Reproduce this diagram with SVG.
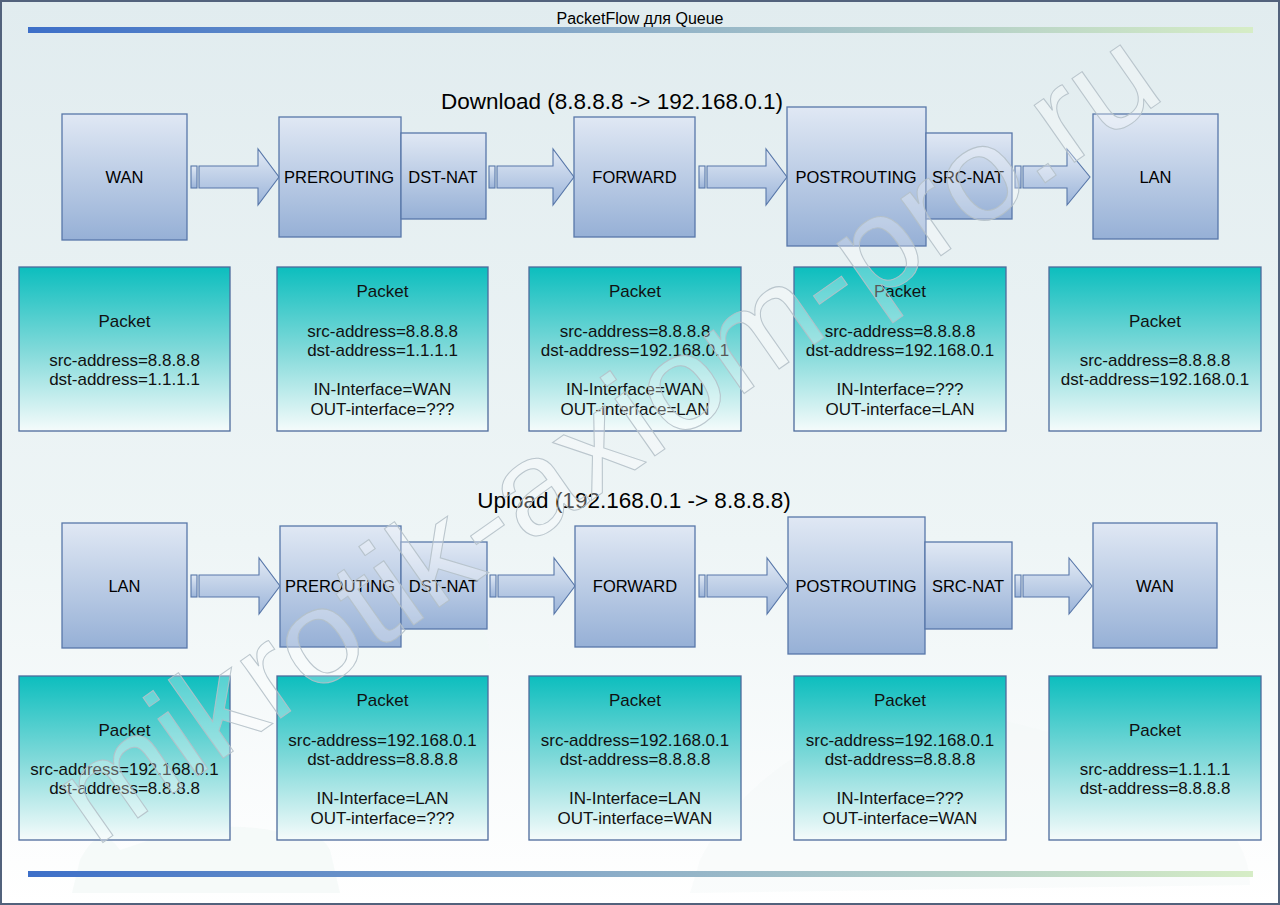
<svg xmlns="http://www.w3.org/2000/svg" width="1280" height="905" viewBox="0 0 1280 905">
<defs>
<linearGradient id="bg" x1="0" y1="0" x2="0" y2="1">
<stop offset="0" stop-color="#e1ecef"/>
<stop offset="0.6" stop-color="#eef5f6"/>
<stop offset="1" stop-color="#ffffff"/>
</linearGradient>
<linearGradient id="bar" x1="0" y1="0" x2="1" y2="0">
<stop offset="0" stop-color="#3d6fc8"/>
<stop offset="0.5" stop-color="#8fb0c8"/>
<stop offset="1" stop-color="#d6edc6"/>
</linearGradient>
<linearGradient id="nodeFill" x1="0" y1="0" x2="0" y2="1">
<stop offset="0" stop-color="#e0e8f4"/>
<stop offset="1" stop-color="#96b0d6"/>
</linearGradient>
<linearGradient id="pktFill" x1="0" y1="0" x2="0" y2="1">
<stop offset="0" stop-color="#0cbebe"/>
<stop offset="0.5" stop-color="#7fd9d9"/>
<stop offset="1" stop-color="#f5fbfb"/>
</linearGradient>
<linearGradient id="arrFill" x1="0" y1="0" x2="0" y2="1">
<stop offset="0" stop-color="#e2eaf5"/>
<stop offset="1" stop-color="#9bb4d9"/>
</linearGradient>
<style>
.node{fill:url(#nodeFill);stroke:#5877a9;stroke-width:1.3}
.pkt{fill:url(#pktFill);stroke:#4d6b9c;stroke-width:1.3}
.arr{fill:url(#arrFill);stroke:#5877a9;stroke-width:1.1}
.lbl{font-family:"Liberation Sans",Arial,sans-serif;font-size:16.5px;fill:#000;text-anchor:middle}
.pt{font-family:"Liberation Sans",Arial,sans-serif;font-size:17px;fill:#111;text-anchor:middle}
.hd{font-family:"Liberation Sans",Arial,sans-serif;font-size:22.5px;fill:#000;text-anchor:middle}
.cloud{fill:#f2f8f7}
</style>
</defs>

<rect x="0" y="0" width="1280" height="905" fill="url(#bg)"/>
<g id="background">
<path class="cloud" opacity="0.7" d="M72 893 L80 860 Q100 820 120 850 Q150 840 180 830 Q260 820 300 840 Q320 830 330 850 L340 893 Z"/>
<path class="cloud" opacity="0.4" d="M690 893 L700 860 Q730 800 790 760 Q900 700 1000 720 Q1100 740 1200 800 Q1250 840 1250 885 Z"/>
<circle cx="420" cy="660" r="70" class="cloud" opacity="0.35"/>
</g>

<rect x="1" y="1" width="1278" height="903" fill="none" stroke="#52627c" stroke-width="2"/>

<g id="title">
<text x="640" y="24" font-family="'Liberation Sans',Arial,sans-serif" font-size="16" text-anchor="middle" fill="#000">PacketFlow для Queue</text>
<rect x="28" y="27" width="1225" height="6" fill="url(#bar)"/>
<rect x="28" y="871" width="1225" height="6" fill="url(#bar)"/>
</g>

<g id="headings">
<text class="hd" x="612" y="109">Download (8.8.8.8 -&gt; 192.168.0.1)</text>
<text class="hd" x="634" y="508">Upload (192.168.0.1 -&gt; 8.8.8.8)</text>
</g>

<g id="connectors">
<rect class="arr" x="191" y="166" width="6" height="22"/>
<polygon class="arr" points="199,166 258,166 258,149 279,177 258,205 258,188 199,188"/>
<rect class="arr" x="489" y="166" width="6" height="22"/>
<polygon class="arr" points="497,166 553,166 553,149 574,177 553,205 553,188 497,188"/>
<rect class="arr" x="699" y="166" width="6" height="22"/>
<polygon class="arr" points="707,166 766,166 766,149 787,177 766,205 766,188 707,188"/>
<rect class="arr" x="1015" y="166" width="6" height="22"/>
<polygon class="arr" points="1023,166 1067,166 1067,149 1090,177 1067,205 1067,188 1023,188"/>
<rect class="arr" x="191" y="575" width="6" height="22"/>
<polygon class="arr" points="199,575 259,575 259,558 280,586 259,614 259,597 199,597"/>
<rect class="arr" x="490" y="575" width="6" height="22"/>
<polygon class="arr" points="498,575 554,575 554,558 575,586 554,614 554,597 498,597"/>
<rect class="arr" x="699" y="575" width="6" height="22"/>
<polygon class="arr" points="707,575 767,575 767,558 788,586 767,614 767,597 707,597"/>
<rect class="arr" x="1015" y="575" width="6" height="22"/>
<polygon class="arr" points="1023,575 1069,575 1069,558 1092,586 1069,614 1069,597 1023,597"/>
</g>

<g id="d-wan"><rect class="node" x="62" y="114" width="125" height="126"/><text class="lbl" x="124.5" y="183">WAN</text></g>
<g id="d-prerouting"><rect class="node" x="279" y="117" width="122" height="120"/><text class="lbl" x="339" y="183">PREROUTING</text></g>
<g id="d-dstnat"><rect class="node" x="401" y="133" width="85" height="86"/><text class="lbl" x="443" y="183">DST-NAT</text></g>
<g id="d-forward"><rect class="node" x="574" y="117" width="121" height="120"/><text class="lbl" x="634.5" y="183">FORWARD</text></g>
<g id="d-postrouting"><rect class="node" x="787" y="107" width="139" height="139"/><text class="lbl" x="856" y="183">POSTROUTING</text></g>
<g id="d-srcnat"><rect class="node" x="926" y="133" width="86" height="86"/><text class="lbl" x="968" y="183">SRC-NAT</text></g>
<g id="d-lan"><rect class="node" x="1093" y="114" width="125" height="125"/><text class="lbl" x="1155.5" y="183">LAN</text></g>

<g id="d-pkt1"><rect class="pkt" x="19" y="267" width="211" height="164"/>
<text class="pt" x="124.5" y="327">Packet</text>
<text class="pt" x="124.5" y="366">src-address=8.8.8.8</text>
<text class="pt" x="124.5" y="385">dst-address=1.1.1.1</text></g>
<g id="d-pkt2"><rect class="pkt" x="277" y="267" width="211" height="164"/>
<text class="pt" x="382.5" y="297">Packet</text>
<text class="pt" x="382.5" y="337">src-address=8.8.8.8</text>
<text class="pt" x="382.5" y="356">dst-address=1.1.1.1</text>
<text class="pt" x="382.5" y="395">IN-Interface=WAN</text>
<text class="pt" x="382.5" y="415">OUT-interface=???</text></g>
<g id="d-pkt3"><rect class="pkt" x="529" y="267" width="212" height="164"/>
<text class="pt" x="635" y="297">Packet</text>
<text class="pt" x="635" y="337">src-address=8.8.8.8</text>
<text class="pt" x="635" y="356">dst-address=192.168.0.1</text>
<text class="pt" x="635" y="395">IN-Interface=WAN</text>
<text class="pt" x="635" y="415">OUT-interface=LAN</text></g>
<g id="d-pkt4"><rect class="pkt" x="794" y="267" width="212" height="164"/>
<text class="pt" x="900" y="297">Packet</text>
<text class="pt" x="900" y="337">src-address=8.8.8.8</text>
<text class="pt" x="900" y="356">dst-address=192.168.0.1</text>
<text class="pt" x="900" y="395">IN-Interface=???</text>
<text class="pt" x="900" y="415">OUT-interface=LAN</text></g>
<g id="d-pkt5"><rect class="pkt" x="1049" y="267" width="212" height="164"/>
<text class="pt" x="1155" y="327">Packet</text>
<text class="pt" x="1155" y="366">src-address=8.8.8.8</text>
<text class="pt" x="1155" y="385">dst-address=192.168.0.1</text></g>

<g id="u-lan"><rect class="node" x="62" y="523" width="125" height="125"/><text class="lbl" x="124.5" y="592">LAN</text></g>
<g id="u-prerouting"><rect class="node" x="280" y="526" width="121" height="121"/><text class="lbl" x="340" y="592">PREROUTING</text></g>
<g id="u-dstnat"><rect class="node" x="401" y="542" width="86" height="87"/><text class="lbl" x="443.5" y="592">DST-NAT</text></g>
<g id="u-forward"><rect class="node" x="575" y="526" width="120" height="121"/><text class="lbl" x="635" y="592">FORWARD</text></g>
<g id="u-postrouting"><rect class="node" x="788" y="517" width="137" height="137"/><text class="lbl" x="856" y="592">POSTROUTING</text></g>
<g id="u-srcnat"><rect class="node" x="925" y="542" width="87" height="87"/><text class="lbl" x="968" y="592">SRC-NAT</text></g>
<g id="u-wan"><rect class="node" x="1093" y="523" width="124" height="125"/><text class="lbl" x="1155" y="592">WAN</text></g>

<g id="u-pkt1"><rect class="pkt" x="19" y="676" width="211" height="164"/>
<text class="pt" x="124.5" y="736">Packet</text>
<text class="pt" x="124.5" y="775">src-address=192.168.0.1</text>
<text class="pt" x="124.5" y="794">dst-address=8.8.8.8</text></g>
<g id="u-pkt2"><rect class="pkt" x="277" y="676" width="211" height="164"/>
<text class="pt" x="382.5" y="706">Packet</text>
<text class="pt" x="382.5" y="746">src-address=192.168.0.1</text>
<text class="pt" x="382.5" y="765">dst-address=8.8.8.8</text>
<text class="pt" x="382.5" y="804">IN-Interface=LAN</text>
<text class="pt" x="382.5" y="824">OUT-interface=???</text></g>
<g id="u-pkt3"><rect class="pkt" x="529" y="676" width="212" height="164"/>
<text class="pt" x="635" y="706">Packet</text>
<text class="pt" x="635" y="746">src-address=192.168.0.1</text>
<text class="pt" x="635" y="765">dst-address=8.8.8.8</text>
<text class="pt" x="635" y="804">IN-Interface=LAN</text>
<text class="pt" x="635" y="824">OUT-interface=WAN</text></g>
<g id="u-pkt4"><rect class="pkt" x="794" y="676" width="212" height="164"/>
<text class="pt" x="900" y="706">Packet</text>
<text class="pt" x="900" y="746">src-address=192.168.0.1</text>
<text class="pt" x="900" y="765">dst-address=8.8.8.8</text>
<text class="pt" x="900" y="804">IN-Interface=???</text>
<text class="pt" x="900" y="824">OUT-interface=WAN</text></g>
<g id="u-pkt5"><rect class="pkt" x="1049" y="676" width="212" height="164"/>
<text class="pt" x="1155" y="736">Packet</text>
<text class="pt" x="1155" y="775">src-address=1.1.1.1</text>
<text class="pt" x="1155" y="794">dst-address=8.8.8.8</text></g>

<g id="watermark">
<text x="95" y="848" transform="rotate(-35 95 848)" font-family="'Liberation Sans',Arial,sans-serif" font-size="132" textLength="1310" lengthAdjust="spacingAndGlyphs" fill="#ffffff" fill-opacity="0.3" stroke="#b4c0c8" stroke-opacity="0.9" stroke-width="1">mikrotik-axiom-pro.ru</text>
</g>
</svg>
